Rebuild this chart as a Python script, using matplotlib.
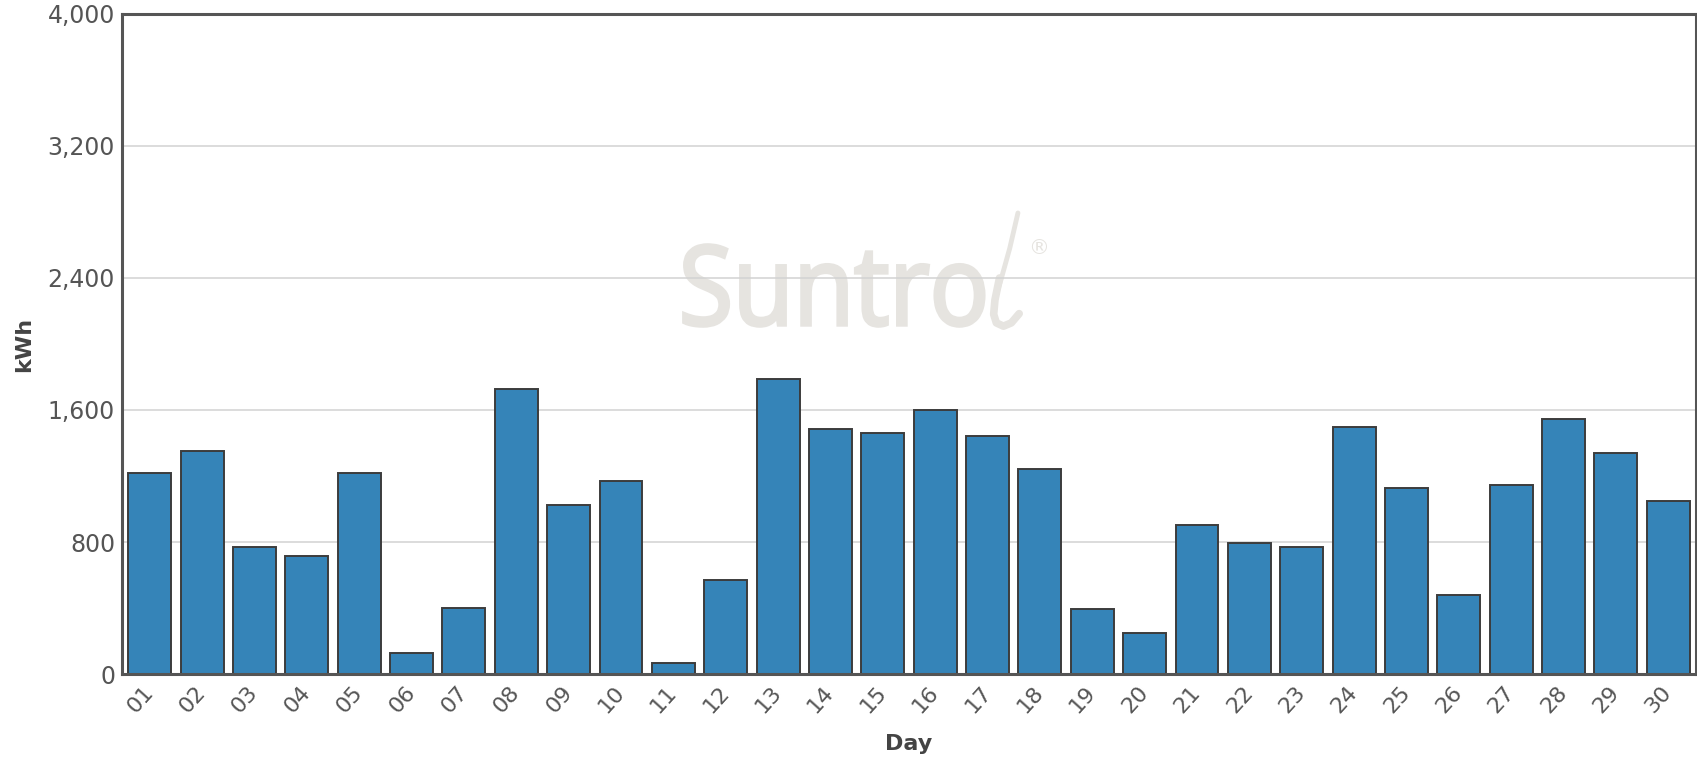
# Daily energy production bar chart

import matplotlib
matplotlib.use("Agg")
import matplotlib.pyplot as plt
from matplotlib.ticker import FuncFormatter
from matplotlib.textpath import TextPath
from matplotlib.patches import PathPatch
from matplotlib.font_manager import FontProperties
from matplotlib.transforms import Affine2D

days = ["01", "02", "03", "04", "05", "06", "07", "08", "09", "10",
        "11", "12", "13", "14", "15", "16", "17", "18", "19", "20",
        "21", "22", "23", "24", "25", "26", "27", "28", "29", "30"]

kwh = [1217, 1349, 770, 717, 1217, 125, 401, 1730, 1026, 1171,
       66, 572, 1789, 1487, 1461, 1599, 1441, 1243, 395, 250,
       901, 796, 770, 1500, 1125, 480, 1144, 1544, 1340, 1048]

y_ticks = [0, 800, 1600, 2400, 3200, 4000]

fig = plt.figure(figsize=(16.97, 7.58), dpi=100)
ax = fig.add_axes([122 / 1697, 84 / 758, 1574 / 1697, 660 / 758])

x = list(range(len(days)))
ax.bar(x, kwh, width=0.82, color="#3584b8", edgecolor="#3c3c3c", linewidth=1.4, zorder=3)

ax.set_xlim(-0.53, len(days) - 0.47)
ax.set_ylim(0, 4000)
ax.set_yticks(y_ticks)
ax.yaxis.set_major_formatter(FuncFormatter(lambda v, p: f"{int(v):,}"))
ax.set_xticks(x)
ax.set_xticklabels(days, rotation=48, ha="right", va="center", rotation_mode="anchor")

ax.grid(axis="y", color="#d2d2d2", linewidth=1.1, zorder=0)
ax.tick_params(axis="both", length=0, labelcolor="#555555")
ax.tick_params(axis="x", pad=10.5, labelsize=16)
ax.tick_params(axis="y", pad=5, labelsize=17)

for s in ax.spines.values():
    s.set_color("#555555")
    s.set_linewidth(2.2)
    s.set_zorder(4)

ax.set_xlabel("Day", fontsize=16, fontweight="bold", color="#444444", labelpad=12.5)
ax.set_ylabel("kWh", fontsize=16, fontweight="bold", color="#444444", labelpad=10)

# watermark: text outline squeezed into the logo box (axes fractions)
wm = "#e6e4e0"
tp = TextPath((0, 0), "Suntro", size=1, prop=FontProperties(family="Open Sans"))
ext = tp.get_extents()
bx0, bx1, by0, by1 = 0.3570, 0.5475, 0.5273, 0.650
tr = (Affine2D().translate(-ext.x0, -ext.y0)
      .scale((bx1 - bx0) / ext.width, (by1 - by0) / ext.height)
      .translate(bx0, by0))
ax.add_patch(PathPatch(tr.transform_path(tp), transform=ax.transAxes,
                       facecolor=wm, edgecolor=wm, linewidth=2.6, zorder=1))
ax.plot([0.5692, 0.564, 0.5585, 0.5546], [0.6985, 0.645, 0.598, 0.5667],
        transform=ax.transAxes, color=wm, linewidth=3.5, solid_capstyle="round", zorder=1)
ax.plot([0.5575, 0.5546, 0.5538, 0.5555, 0.5600, 0.5650, 0.5700],
        [0.60, 0.5667, 0.545, 0.532, 0.527, 0.532, 0.546],
        transform=ax.transAxes, color=wm, linewidth=5.5, solid_capstyle="round",
        solid_joinstyle="round", zorder=1)
ax.text(0.576, 0.645, "®", transform=ax.transAxes, fontsize=15, color=wm,
        ha="left", va="center", zorder=1)

plt.savefig("out.png", dpi=100)
